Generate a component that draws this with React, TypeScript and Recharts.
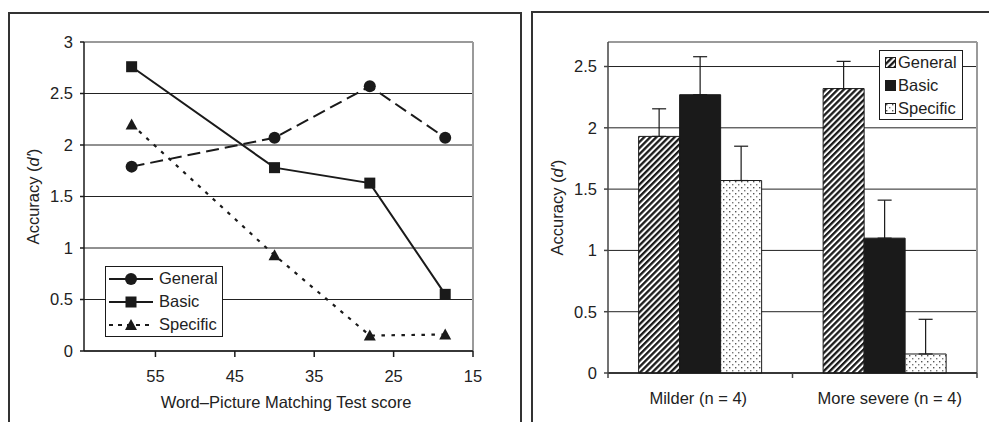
import React from "react";
import {
  Bar,
  BarChart,
  CartesianGrid,
  ErrorBar,
  Label,
  Legend,
  Line,
  LineChart,
  ReferenceLine,
  XAxis,
  YAxis,
} from "recharts";

const FONT = '"Liberation Sans", Arial, sans-serif';
const INK = "#1a1a1a";
const TEXT = "#222";
const BORDER = "#9a9a9a";

// left panel: d' against Word–Picture Matching score
const wpmScores = [58, 40, 28, 18.5];
const generalByScore = [1.79, 2.07, 2.57, 2.07];
const basicByScore = [2.76, 1.78, 1.63, 0.55];
const specificByScore = [2.2, 0.93, 0.15, 0.16];
const scoreTicks = [55, 45, 35, 25, 15];
const leftAccuracyTicks = [0, 0.5, 1, 1.5, 2, 2.5, 3];

// right panel: group means with upward SE bars
const groups = ["Milder (n = 4)", "More severe (n = 4)"];
const generalMean = [1.93, 2.32];
const basicMean = [2.27, 1.1];
const specificMean = [1.57, 0.155];
const generalSE = [0.225, 0.222];
const basicSE = [0.31, 0.31];
const specificSE = [0.28, 0.283];
const rightAccuracyTicks = [0, 0.5, 1, 1.5, 2, 2.5];

const seriesOrder = ["general", "basic", "specific"];

const lineData = wpmScores.map((score, i) => ({
  score,
  general: generalByScore[i],
  basic: basicByScore[i],
  specific: specificByScore[i],
}));

const barData = groups.map((group, i) => ({
  group,
  general: generalMean[i],
  basic: basicMean[i],
  specific: specificMean[i],
  generalErr: [0, generalSE[i]],
  basicErr: [0, basicSE[i]],
  specificErr: [0, specificSE[i]],
}));

const lineStyles: Record<string, { marker: string; dash?: string; legendDash?: string }> = {
  general: { marker: "circle", dash: "13 6" },
  basic: { marker: "square" },
  specific: { marker: "triangle", dash: "3.5 6.5", legendDash: "4 5" },
};

const barFills: Record<string, string> = {
  general: "url(#hatchFill)",
  basic: INK,
  specific: "url(#dotFill)",
};

const RIGHT_W = 489;
const RIGHT_YAXIS_W = 108;
const RIGHT_MARGIN_R = 12;
const BAND = (RIGHT_W - RIGHT_YAXIS_W - RIGHT_MARGIN_R) / groups.length;

const inOrder = (payload: any[] | undefined) =>
  [...(payload ?? [])].sort((a, b) => seriesOrder.indexOf(a.dataKey) - seriesOrder.indexOf(b.dataKey));

function Marker({ kind, cx, cy }: { kind: string; cx: number; cy: number }) {
  if (kind === "circle") return <circle cx={cx} cy={cy} r={6} fill={INK} />;
  if (kind === "square") return <rect x={cx - 5.5} y={cy - 5.5} width={11} height={11} fill={INK} />;
  return <path d={`M${cx},${cy - 6}L${cx + 6},${cy + 5}L${cx - 6},${cy + 5}Z`} fill={INK} />;
}

const renderDot = (kind: string) => (p: any) =>
  <Marker key={`${kind}-${p.index}`} kind={kind} cx={p.cx} cy={p.cy} />;

function YTitle({ viewBox, fromLeft }: any) {
  const cx = viewBox.x + fromLeft;
  const cy = viewBox.y + viewBox.height / 2;
  return (
    <text
      x={cx}
      y={cy}
      transform={`rotate(-90 ${cx} ${cy})`}
      textAnchor="middle"
      dominantBaseline="central"
      fill={TEXT}
      fontSize={16.5}
      fontFamily={FONT}
    >
      Accuracy (<tspan fontStyle="italic">d'</tspan>)
    </text>
  );
}

function XTitle({ viewBox }: any) {
  return (
    <text
      x={viewBox.x + viewBox.width / 2 + 7.5}
      y={viewBox.y + viewBox.height - 14}
      textAnchor="middle"
      fill={TEXT}
      fontSize={16.5}
      fontFamily={FONT}
    >
      Word–Picture Matching Test score
    </text>
  );
}

function GroupTick(props: any) {
  const { x, y, payload, index } = props;
  const half = BAND / 2;
  const axisY = y - 19;
  // Excel nudges the labels a little off the band centres
  const nudge = index === 0 ? -2 : 5;
  return (
    <g>
      <line x1={x - half} x2={x - half} y1={axisY} y2={axisY + 5} stroke="#444" strokeWidth={1.5} />
      {index === groups.length - 1 && (
        <line x1={x + half} x2={x + half} y1={axisY} y2={axisY + 5} stroke="#444" strokeWidth={1.5} />
      )}
      <text x={x + nudge} y={y} dy="0.71em" textAnchor="middle" fill={TEXT} fontSize={16.5} fontFamily={FONT}>
        {payload.value}
      </text>
    </g>
  );
}

function LineLegend({ payload }: any) {
  return (
    <div
      style={{
        width: 118,
        height: 71,
        boxSizing: "border-box",
        border: `1.5px solid ${INK}`,
        background: "#fff",
        fontFamily: FONT,
        fontSize: 16.5,
        color: TEXT,
      }}
    >
      {inOrder(payload).map((entry: any) => {
        const s = lineStyles[entry.dataKey];
        return (
          <div key={entry.dataKey} style={{ height: 23, display: "flex", alignItems: "center" }}>
            <svg width={44} height={14} style={{ marginLeft: 3, marginRight: 6, flex: "none" }}>
              <line x1={0} x2={44} y1={7} y2={7} stroke={INK} strokeWidth={2} strokeDasharray={s.legendDash} />
              <Marker kind={s.marker} cx={22} cy={7} />
            </svg>
            <span style={{ lineHeight: 1 }}>{entry.value}</span>
          </div>
        );
      })}
    </div>
  );
}

function BarLegend({ payload }: any) {
  return (
    <div
      style={{
        width: 84,
        height: 70,
        boxSizing: "border-box",
        border: `1.5px solid ${INK}`,
        background: "#fff",
        fontFamily: FONT,
        fontSize: 16.5,
        color: TEXT,
      }}
    >
      {inOrder(payload).map((entry: any) => (
        <div key={entry.dataKey} style={{ height: 23, display: "flex", alignItems: "center" }}>
          <svg width={11} height={11} style={{ marginLeft: 5, marginRight: 2, flex: "none" }}>
            <rect x={0.5} y={0.5} width={10} height={10} fill={barFills[entry.dataKey]} stroke={INK} strokeWidth={1} />
          </svg>
          <span style={{ lineHeight: 1 }}>{entry.value}</span>
        </div>
      ))}
    </div>
  );
}

const tickStyle = { fill: TEXT, fontSize: 16.5, fontFamily: FONT };

export default function App() {
  return (
    <div
      style={{
        position: "absolute",
        left: 0,
        top: 0,
        width: 989,
        height: 422,
        overflow: "hidden",
        background: "#fff",
        fontFamily: FONT,
      }}
    >
      <div
        style={{
          position: "absolute",
          left: 8,
          top: 12,
          width: 514,
          height: 430,
          boxSizing: "border-box",
          borderTop: "2px solid #333",
          borderLeft: "2px solid #333",
          borderRight: "2px solid #333",
        }}
      />
      <div
        style={{
          position: "absolute",
          left: 531,
          top: 11,
          width: 480,
          height: 430,
          boxSizing: "border-box",
          borderTop: "2px solid #333",
          borderLeft: "2px solid #333",
        }}
      />

      <div style={{ position: "absolute", left: 0, top: 0 }}>
        <LineChart width={500} height={422} data={lineData} margin={{ top: 42, right: 27, bottom: 0, left: 0 }}>
          <CartesianGrid vertical={false} stroke="#222" strokeWidth={1} />
          <ReferenceLine y={3} stroke={BORDER} strokeWidth={2} />
          <ReferenceLine x={15} stroke={BORDER} strokeWidth={2} />
          <XAxis
            type="number"
            dataKey="score"
            domain={[15, 64]}
            reversed
            ticks={scoreTicks}
            interval={0}
            height={71}
            tickSize={6}
            tickMargin={13}
            axisLine={{ stroke: INK, strokeWidth: 1.5 }}
            tickLine={{ stroke: INK, strokeWidth: 1.5 }}
            tick={tickStyle}
          >
            <Label content={<XTitle />} />
          </XAxis>
          <YAxis
            domain={[0, 3]}
            ticks={leftAccuracyTicks}
            interval={0}
            width={84}
            tickSize={4}
            tickMargin={7}
            axisLine={{ stroke: INK, strokeWidth: 1.5 }}
            tickLine={{ stroke: INK, strokeWidth: 1.5 }}
            tick={tickStyle}
          >
            <Label content={<YTitle fromLeft={33} />} />
          </YAxis>
          <Line
            dataKey="general"
            name="General"
            type="linear"
            stroke={INK}
            strokeWidth={2}
            strokeDasharray={lineStyles.general.dash}
            dot={renderDot("circle")}
            activeDot={false}
            isAnimationActive={false}
          />
          <Line
            dataKey="basic"
            name="Basic"
            type="linear"
            stroke={INK}
            strokeWidth={2}
            dot={renderDot("square")}
            activeDot={false}
            isAnimationActive={false}
          />
          <Line
            dataKey="specific"
            name="Specific"
            type="linear"
            stroke={INK}
            strokeWidth={2.2}
            strokeDasharray={lineStyles.specific.dash}
            dot={renderDot("triangle")}
            activeDot={false}
            isAnimationActive={false}
          />
          <Legend
            layout="vertical"
            align="center"
            verticalAlign="middle"
            wrapperStyle={{ left: 105, top: 266, width: 118 }}
            content={(props: any) => <LineLegend {...props} />}
          />
        </LineChart>
      </div>

      <div style={{ position: "absolute", left: 500, top: 0 }}>
        <BarChart
          width={RIGHT_W}
          height={422}
          data={barData}
          margin={{ top: 42, right: RIGHT_MARGIN_R, bottom: 0, left: 0 }}
          barCategoryGap="16.6%"
          barGap={0}
        >
          <defs>
            <pattern id="hatchFill" patternUnits="userSpaceOnUse" width={4.3} height={4.3} patternTransform="rotate(45)">
              <rect width={4.3} height={4.3} fill="#fff" />
              <rect width={2.3} height={4.3} fill={INK} />
            </pattern>
            <pattern id="dotFill" patternUnits="userSpaceOnUse" width={6} height={6}>
              <rect width={6} height={6} fill="#fff" />
              <rect x={1} y={1} width={1.4} height={1.4} fill="#555" />
              <rect x={4} y={4} width={1.4} height={1.4} fill="#777" />
            </pattern>
          </defs>
          <CartesianGrid vertical={false} stroke="#222" strokeWidth={1} />
          <ReferenceLine y={2.7} stroke={BORDER} strokeWidth={2} />
          <ReferenceLine x={groups[groups.length - 1]} position="end" stroke={BORDER} strokeWidth={2} />
          <XAxis
            dataKey="group"
            interval={0}
            height={49}
            tickSize={0}
            tickMargin={19}
            tickLine={false}
            axisLine={{ stroke: INK, strokeWidth: 1.5 }}
            tick={<GroupTick />}
          />
          <YAxis
            domain={[0, 2.7]}
            ticks={rightAccuracyTicks}
            interval={0}
            width={RIGHT_YAXIS_W}
            tickSize={4}
            tickMargin={7}
            axisLine={{ stroke: "#444", strokeWidth: 1.5 }}
            tickLine={{ stroke: "#444", strokeWidth: 1.5 }}
            tick={tickStyle}
          >
            <Label content={<YTitle fromLeft={57} />} />
          </YAxis>
          <Bar dataKey="general" name="General" fill={barFills.general} stroke={INK} strokeWidth={1} isAnimationActive={false}>
            <ErrorBar dataKey="generalErr" width={7} stroke={INK} strokeWidth={1.2} isAnimationActive={false} />
          </Bar>
          <Bar dataKey="basic" name="Basic" fill={barFills.basic} stroke={INK} strokeWidth={1} isAnimationActive={false}>
            <ErrorBar dataKey="basicErr" width={7} stroke={INK} strokeWidth={1.2} isAnimationActive={false} />
          </Bar>
          <Bar dataKey="specific" name="Specific" fill={barFills.specific} stroke={INK} strokeWidth={1} isAnimationActive={false}>
            <ErrorBar dataKey="specificErr" width={7} stroke={INK} strokeWidth={1.2} isAnimationActive={false} />
          </Bar>
          <Legend
            layout="vertical"
            align="center"
            verticalAlign="middle"
            wrapperStyle={{ left: 379, top: 50, width: 84 }}
            content={(props: any) => <BarLegend {...props} />}
          />
        </BarChart>
      </div>
    </div>
  );
}
